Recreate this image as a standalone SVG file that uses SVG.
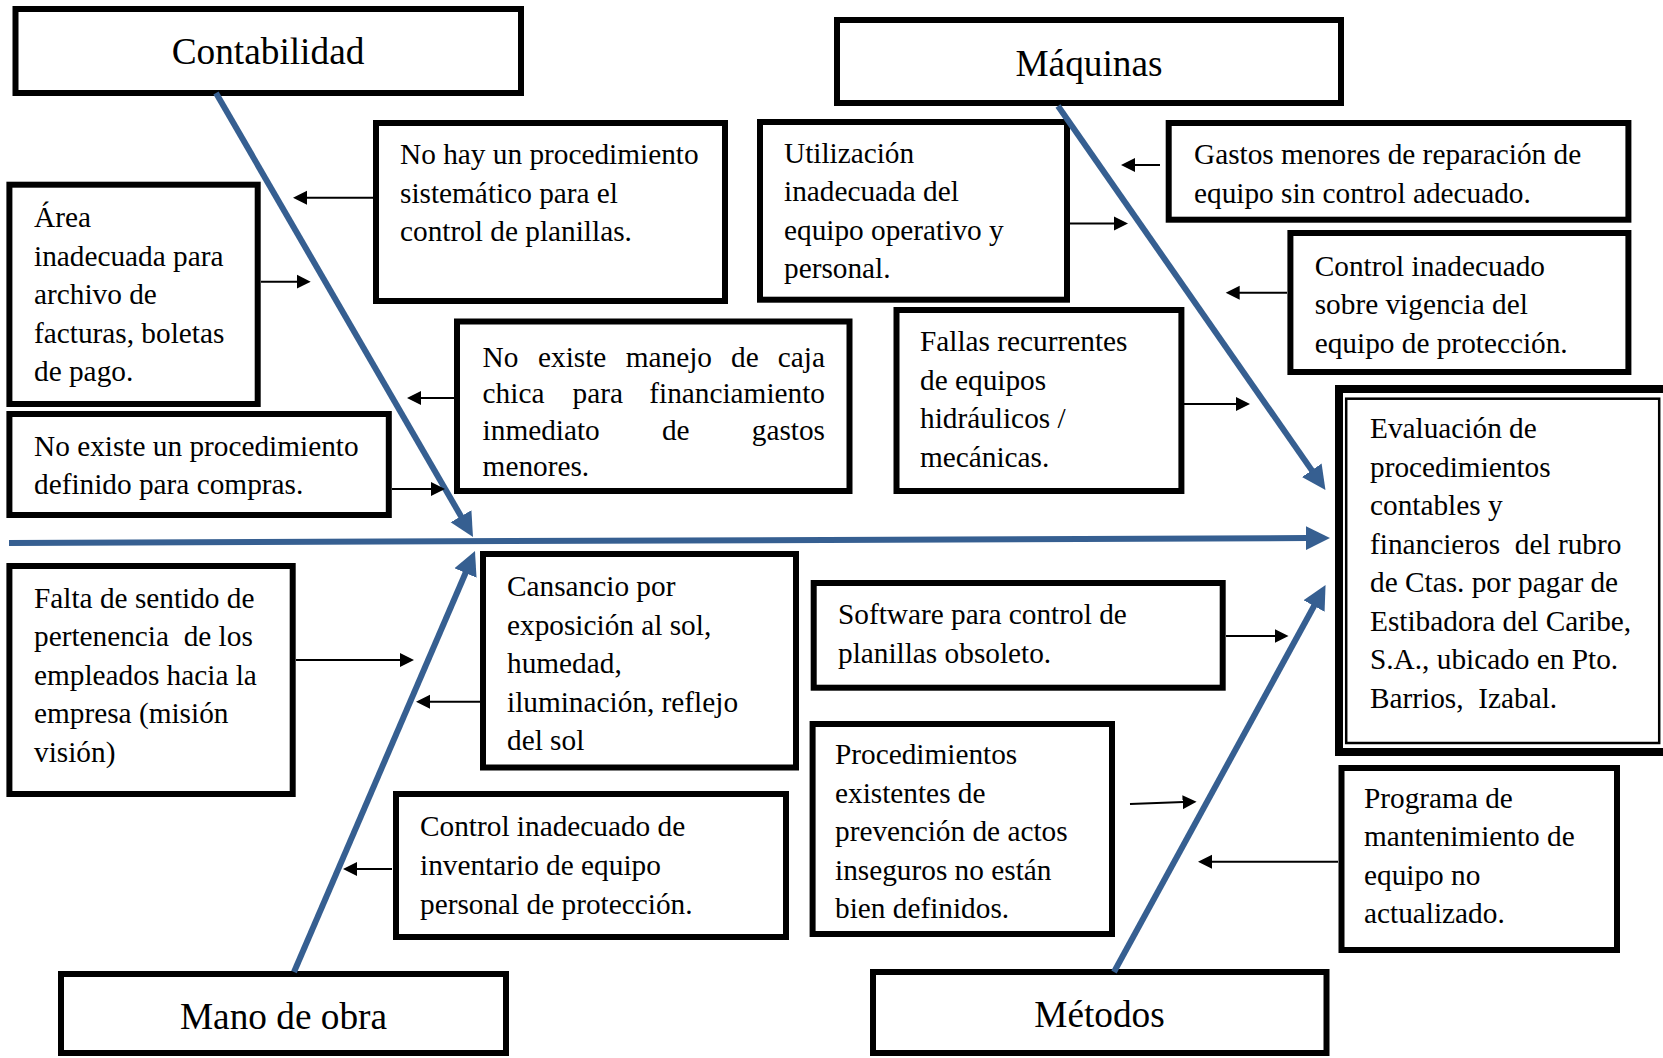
<svg xmlns="http://www.w3.org/2000/svg" width="1663" height="1058" viewBox="0 0 1663 1058">
<style>
.box{fill:#fff;stroke:#000;stroke-width:6}
.t{font-family:"Liberation Serif","Times New Roman",serif;font-size:29.3px;fill:#000}
.h{font-family:"Liberation Serif","Times New Roman",serif;font-size:37.3px;fill:#000;text-anchor:middle}
.bone{stroke:#365F91;stroke-width:6;fill:none}
.ar{stroke:#000;stroke-width:2;fill:none}
</style>
<defs>
<marker id="mb" markerUnits="userSpaceOnUse" viewBox="0 -13 26 26" refX="2" refY="0" markerWidth="26" markerHeight="26" orient="auto"><path d="M0,-12 L24,0 L0,12 z" fill="#365F91"/></marker>
<marker id="mk" markerUnits="userSpaceOnUse" viewBox="0 -8 16 16" refX="1" refY="0" markerWidth="16" markerHeight="16" orient="auto"><path d="M0,-7 L14,0 L0,7 z" fill="#000"/></marker>
</defs>
<rect width="1663" height="1058" fill="#fff"/>

<g id="contabilidad">
<rect class="box" x="15.5" y="9" width="505.5" height="84"/>
<text class="h" x="268" y="64">Contabilidad</text>
</g>
<g id="maquinas">
<rect class="box" x="837" y="20" width="504" height="83"/>
<text class="h" x="1089" y="76">Máquinas</text>
</g>
<g id="mano-de-obra">
<rect class="box" x="61" y="974" width="445" height="79"/>
<text class="h" x="283.5" y="1028.5">Mano de obra</text>
</g>
<g id="metodos">
<rect class="box" x="873" y="972" width="453.5" height="81"/>
<text class="h" x="1099.5" y="1027">Métodos</text>
</g>

<g id="area-inadecuada">
<rect class="box" x="9.4" y="184.7" width="248.3" height="219.3"/>
<text class="t"><tspan x="34" y="227">Área</tspan><tspan x="34" y="265.5">inadecuada para</tspan><tspan x="34" y="304">archivo de</tspan><tspan x="34" y="342.5">facturas, boletas</tspan><tspan x="34" y="381">de pago.</tspan></text>
</g>
<g id="no-hay-procedimiento">
<rect class="box" x="376" y="123" width="349" height="178"/>
<text class="t"><tspan x="400" y="164">No hay un procedimiento</tspan><tspan x="400" y="202.5">sistemático para el</tspan><tspan x="400" y="241">control de planillas.</tspan></text>
</g>
<g id="caja-chica">
<rect class="box" x="457" y="321.5" width="392.5" height="169.5"/>
<text class="t"><tspan x="482.6" y="366.5">No</tspan><tspan x="538" y="366.5">existe</tspan><tspan x="625.7" y="366.5">manejo</tspan><tspan x="731.1" y="366.5">de</tspan><tspan x="825" y="366.5" text-anchor="end">caja</tspan></text>
<text class="t"><tspan x="482.6" y="403">chica</tspan><tspan x="572.5" y="403">para</tspan><tspan x="825" y="403" text-anchor="end">financiamiento</tspan></text>
<text class="t"><tspan x="482.6" y="439.5">inmediato</tspan><tspan x="661.9" y="439.5">de</tspan><tspan x="825" y="439.5" text-anchor="end">gastos</tspan></text>
<text class="t"><tspan x="482.6" y="476">menores.</tspan></text>
</g>
<g id="compras">
<rect class="box" x="9.4" y="414" width="379.4" height="101"/>
<text class="t"><tspan x="34" y="456">No existe un procedimiento</tspan><tspan x="34" y="494">definido para compras.</tspan></text>
</g>
<g id="utilizacion">
<rect class="box" x="760" y="122" width="307" height="177.7"/>
<text class="t"><tspan x="784" y="162.7">Utilización</tspan><tspan x="784" y="201">inadecuada del</tspan><tspan x="784" y="239.7">equipo operativo y</tspan><tspan x="784" y="278">personal.</tspan></text>
</g>
<g id="gastos-menores">
<rect class="box" x="1168.7" y="123" width="459.7" height="96.7"/>
<text class="t"><tspan x="1194" y="164.3">Gastos menores de reparación de</tspan><tspan x="1194" y="202.7">equipo sin control adecuado.</tspan></text>
</g>
<g id="control-vigencia">
<rect class="box" x="1290.4" y="233" width="338" height="139"/>
<text class="t"><tspan x="1314.7" y="276">Control inadecuado</tspan><tspan x="1314.7" y="314.3">sobre vigencia del</tspan><tspan x="1314.7" y="352.7">equipo de protección.</tspan></text>
</g>
<g id="fallas">
<rect class="box" x="896.5" y="310" width="284.9" height="181"/>
<text class="t"><tspan x="920" y="351">Fallas recurrentes</tspan><tspan x="920" y="389.5">de equipos</tspan><tspan x="920" y="428">hidráulicos /</tspan><tspan x="920" y="466.5">mecánicas.</tspan></text>
</g>
<g id="evaluacion">
<rect x="1339" y="389" width="328" height="363" fill="#fff" stroke="#000" stroke-width="8"/>
<rect x="1346.2" y="398.7" width="313" height="344.3" fill="none" stroke="#000" stroke-width="2.5"/>
<text class="t" xml:space="preserve"><tspan x="1370" y="438">Evaluación de</tspan><tspan x="1370" y="476.5">procedimientos</tspan><tspan x="1370" y="515">contables y</tspan><tspan x="1370" y="553.5">financieros  del rubro</tspan><tspan x="1370" y="592">de Ctas. por pagar de</tspan><tspan x="1370" y="630.5">Estibadora del Caribe,</tspan><tspan x="1370" y="669">S.A., ubicado en Pto.</tspan><tspan x="1370" y="707.5">Barrios,  Izabal.</tspan></text>
</g>
<g id="falta-sentido">
<rect class="box" x="9.4" y="566" width="283.3" height="228"/>
<text class="t" xml:space="preserve"><tspan x="34" y="607.7">Falta de sentido de</tspan><tspan x="34" y="646">pertenencia  de los</tspan><tspan x="34" y="684.5">empleados hacia la</tspan><tspan x="34" y="723">empresa (misión</tspan><tspan x="34" y="761.5">visión)</tspan></text>
</g>
<g id="cansancio">
<rect class="box" x="483" y="554" width="313" height="213.5"/>
<text class="t"><tspan x="507" y="596">Cansancio por</tspan><tspan x="507" y="634.5">exposición al sol,</tspan><tspan x="507" y="673">humedad,</tspan><tspan x="507" y="711.5">iluminación, reflejo</tspan><tspan x="507" y="750">del sol</tspan></text>
</g>
<g id="control-inventario">
<rect class="box" x="396" y="794" width="390" height="143"/>
<text class="t"><tspan x="420" y="836">Control inadecuado de</tspan><tspan x="420" y="875">inventario de equipo</tspan><tspan x="420" y="914">personal de protección.</tspan></text>
</g>
<g id="software">
<rect class="box" x="813.7" y="583" width="409" height="104.7"/>
<text class="t"><tspan x="838" y="624">Software para control de</tspan><tspan x="838" y="663">planillas obsoleto.</tspan></text>
</g>
<g id="procedimientos-prevencion">
<rect class="box" x="812.6" y="724" width="299.4" height="210"/>
<text class="t"><tspan x="835" y="764">Procedimientos</tspan><tspan x="835" y="802.5">existentes de</tspan><tspan x="835" y="841">prevención de actos</tspan><tspan x="835" y="879.5">inseguros no están</tspan><tspan x="835" y="918">bien definidos.</tspan></text>
</g>
<g id="programa-mantenimiento">
<rect class="box" x="1341.5" y="768" width="275.5" height="182"/>
<text class="t"><tspan x="1364" y="807.7">Programa de</tspan><tspan x="1364" y="846">mantenimiento de</tspan><tspan x="1364" y="884.5">equipo no</tspan><tspan x="1364" y="923">actualizado.</tspan></text>
</g>

<g id="connectors">
<line class="bone" x1="9" y1="543" x2="1308" y2="538.1" marker-end="url(#mb)"/>
<line class="bone" x1="216" y1="93" x2="462" y2="518" marker-end="url(#mb)"/>
<line class="bone" x1="1058" y1="106" x2="1312.9" y2="471.9" marker-end="url(#mb)"/>
<line class="bone" x1="294" y1="972" x2="466.3" y2="571.2" marker-end="url(#mb)"/>
<line class="bone" x1="1114" y1="972" x2="1315" y2="604.3" marker-end="url(#mb)"/>

<line class="ar" x1="261" y1="281.7" x2="297.7" y2="281.7" marker-end="url(#mk)"/>
<line class="ar" x1="373" y1="197.7" x2="306" y2="197.7" marker-end="url(#mk)"/>
<line class="ar" x1="454" y1="398" x2="420" y2="398" marker-end="url(#mk)"/>
<line class="ar" x1="392" y1="489" x2="432" y2="489" marker-end="url(#mk)"/>
<line class="ar" x1="296" y1="660" x2="401" y2="660" marker-end="url(#mk)"/>
<line class="ar" x1="480" y1="701.7" x2="429" y2="701.7" marker-end="url(#mk)"/>
<line class="ar" x1="392" y1="869" x2="356" y2="869" marker-end="url(#mk)"/>
<line class="ar" x1="1070" y1="223.5" x2="1115" y2="223.5" marker-end="url(#mk)"/>
<line class="ar" x1="1160" y1="165" x2="1134" y2="165" marker-end="url(#mk)"/>
<line class="ar" x1="1287" y1="292.7" x2="1238.7" y2="292.7" marker-end="url(#mk)"/>
<line class="ar" x1="1184" y1="404" x2="1237" y2="404" marker-end="url(#mk)"/>
<line class="ar" x1="1226" y1="636" x2="1275.5" y2="636" marker-end="url(#mk)"/>
<line class="ar" x1="1130" y1="804" x2="1183.6" y2="802.1" marker-end="url(#mk)"/>
<line class="ar" x1="1338" y1="861.7" x2="1211" y2="861.7" marker-end="url(#mk)"/>
</g>
</svg>
